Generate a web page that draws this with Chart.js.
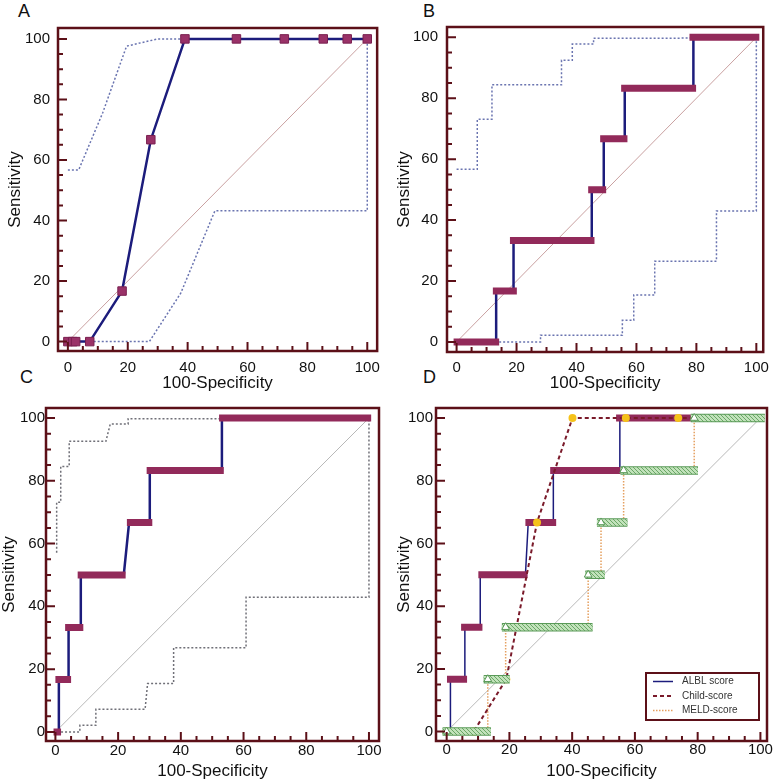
<!DOCTYPE html>
<html>
<head>
<meta charset="utf-8">
<script src="https://cdn.jsdelivr.net/npm/chart.js@4.4.1/dist/chart.umd.min.js"></script>
<style>
  body { margin: 0; background: #fff; }
  #wrap { position: relative; width: 776px; height: 780px; overflow: hidden; }
  #wrap canvas { position: absolute; }
  .letter { position: absolute; font-family: 'Liberation Sans', Arial, sans-serif; font-size: 18px; line-height: 18px; color: #111; }
</style>
</head>
<body>
<div id="wrap">
  <div class="letter" style="left:18px;top:2px">A</div>
  <div class="letter" style="left:423px;top:2px">B</div>
  <div class="letter" style="left:20px;top:368px">C</div>
  <div class="letter" style="left:423px;top:368px">D</div>
</div>
<script>
'use strict';

// ---- data ----
const tickValues = [0, 20, 40, 60, 80, 100];
const chanceX = [0, 100];
const chanceY = [0, 100];
const legendLabels = ['ALBL score', 'Child-score', 'MELD-score'];

// A
const aRocX = [0, 1.6, 2.6, 7.3, 18.1, 27.7, 39.1, 56.3, 72.3, 85.3, 93.3, 100];
const aRocY = [0, 0, 0, 0, 16.7, 66.7, 100, 100, 100, 100, 100, 100];
const aUpperX = [0, 3.6, 11.6, 19.6, 30, 100];
const aUpperY = [56.7, 56.7, 75.5, 97.6, 100, 100];
const aLowerX = [7.3, 27.2, 37.7, 49.1, 100, 100];
const aLowerY = [0, 0, 16, 43.2, 43.2, 100];

// B
const bRocX = [0, 13.2, 13.2, 19.0, 19.0, 45.1, 45.1, 49.1, 49.1, 56.1, 56.1, 79.0, 79.0, 100];
const bRocY = [0, 0, 16.7, 16.7, 33.3, 33.3, 50, 50, 66.7, 66.7, 83.3, 83.3, 100, 100];
const bBarY = [0, 16.7, 33.3, 50, 66.7, 83.3, 100];
const bBarFrom = [-1.0, 12.1, 17.8, 43.9, 47.9, 54.9, 77.7];
const bBarTo = [14.2, 20.1, 46.0, 49.9, 57.0, 79.9, 101];
const bUpperX = [0, 6.9, 6.9, 11.8, 11.8, 35.0, 35.0, 38.6, 38.6, 45.7, 45.7, 70, 100];
const bUpperY = [56.7, 56.7, 73.1, 73.1, 84.4, 84.4, 92.5, 92.5, 97.8, 97.8, 99.7, 99.7, 100];
const bLowerX = [14.2, 28.0, 28.0, 55.3, 55.3, 59.1, 59.1, 66.1, 66.1, 86.7, 86.7, 100, 100];
const bLowerY = [0, 0, 2.2, 2.2, 7.1, 7.1, 15.4, 15.4, 26.5, 26.5, 43, 43, 100];

// C
const cRocX = [0, 1.1, 1.1, 4.2, 4.2, 8.1, 8.1, 21.8, 23.5, 30.1, 30.1, 53.1, 53.1, 100];
const cRocY = [0, 0, 16.7, 16.7, 33.3, 33.3, 50, 50, 66.7, 66.7, 83.3, 83.3, 100, 100];
const cBarY = [0, 16.7, 33.3, 50, 66.7, 83.3, 100];
const cBarFrom = [-0.6, 0, 3.1, 7.1, 22.8, 29.1, 52.2];
const cBarTo = [1.8, 5.0, 8.9, 22.4, 30.9, 53.7, 100.7];
const cUpperX = [0.4, 0.4, 1.7, 1.7, 4.4, 4.4, 16.1, 17.5, 23.2, 23.2, 52.3, 100];
const cUpperY = [57.1, 73.2, 73.2, 84.6, 84.6, 92.6, 92.6, 98.1, 98.1, 99.8, 99.8, 100];
const cLowerX = [1.8, 7.8, 7.8, 12.9, 12.9, 28.6, 29.4, 37.7, 37.7, 60.8, 60.8, 100, 100];
const cLowerY = [0, 0, 2.1, 2.1, 7.2, 7.2, 15.4, 15.4, 26.8, 26.8, 42.9, 42.9, 100];

// D
const dAlblX = [0, 1.2, 1.2, 5.8, 5.8, 10.7, 10.7, 25.1, 26.0, 34.0, 34.0, 55.2, 55.2, 100];
const dAlblY = [0, 0, 16.7, 16.7, 33.3, 33.3, 50, 50, 66.7, 66.7, 83.3, 83.3, 100, 100];
const dAlblBarY = [0, 16.7, 33.3, 50, 66.7, 83.3, 100];
const dAlblBarFrom = [-1.0, 0.1, 4.6, 10.1, 25.1, 33.0, 54.0];
const dAlblBarTo = [2.0, 6.5, 11.4, 25.8, 34.9, 55.5, 78.3];
const dChildX = [0, 8.6, 19.0, 28.8, 40.1, 57.1, 73.8, 100];
const dChildY = [0, 0, 16.7, 66.7, 100, 100, 100, 100];
const dMeldX = [0, 13.1, 18.8, 45.1, 49.2, 56.4, 78.9, 100];
const dMeldY = [0, 16.7, 33.3, 50, 66.7, 83.3, 100, 100];
const dMeldBarY = [0, 16.7, 33.3, 50, 66.7, 83.3, 100];
const dMeldBarFrom = [-1.3, 11.8, 17.6, 44.2, 47.9, 55.4, 77.8];
const dMeldBarTo = [14.1, 20.1, 46.5, 50.4, 57.6, 80.1, 101.4];

// ---- styles / layout ----
const FONT = "'Liberation Sans', Arial, sans-serif";
const FRAME = '#5c1018';
const NAVY = '#1c1c7c';
const PLUM = '#922a5a';
const CI_BLUE = '#6a74b0';
const CI_GREY = '#707078';
const PINK_DIAG = '#c9a0a0';
const GREY_DIAG = '#b8b8b8';
const CHILD = '#7a1a2a';
const YELLOW = '#f5c21a';
const ORANGE = '#e5a060';
const GREEN_EDGE = '#5a9a58';

const panels = {
  A: { box: [0, 0, 388, 400], area: [58, 28, 382, 351], xr: [-3.3, 103.3], yr: [-3.1, 103.6], xTickPad: 8, yTickPad: 8, xTitlePad: 8.5, yTitlePad: 7 },
  B: { box: [388, 0, 776, 400], area: [447, 27, 769, 352], xr: [-3.2, 102.3], yr: [-3.3, 103.4], xTickPad: 7, yTickPad: 9, xTitlePad: 8.5, yTitlePad: 7.5 },
  C: { box: [0, 390, 388, 780], area: [46, 408, 379, 741], xr: [-3.0, 103.2], yr: [-2.9, 103.2], xTickPad: 1, yTickPad: 1, xTitlePad: 0, yTitlePad: 0.5 },
  D: { box: [388, 390, 776, 780], area: [436, 408, 767, 741], xr: [-3.4, 102.1], yr: [-3.0, 103.2], xTickPad: 0, yTickPad: 3, xTitlePad: 0, yTitlePad: 8 }
};

function pts(xs, ys) {
  return xs.map((x, i) => ({ x: x, y: ys[i] }));
}

// horizontal thick segments, separated by gaps
function segs(from, to, ys) {
  const out = [];
  ys.forEach((y, i) => {
    out.push({ x: from[i], y: y }, { x: to[i], y: y }, { x: to[i], y: null });
  });
  return out;
}

function line(data, color, width, dash, extra) {
  return Object.assign({
    data: data,
    showLine: true,
    borderColor: color,
    backgroundColor: color,
    borderWidth: width,
    borderDash: dash || [],
    borderCapStyle: 'butt',
    pointRadius: 0,
    pointHoverRadius: 0,
    spanGaps: false,
    tension: 0,
    fill: false
  }, extra || {});
}

// hatch pattern for the MELD bars
function hatch() {
  const tile = document.createElement('canvas');
  tile.width = 4; tile.height = 4;
  const t = tile.getContext('2d');
  t.fillStyle = '#c2e2bb';
  t.fillRect(0, 0, 4, 4);
  t.strokeStyle = '#6aa866';
  t.lineWidth = 1;
  t.beginPath();
  t.moveTo(0, 0); t.lineTo(4, 4);
  t.moveTo(-1, 3); t.lineTo(1, 5);
  t.moveTo(3, -1); t.lineTo(5, 1);
  t.stroke();
  return t.createPattern(tile, 'repeat');
}

// frame + inward ticks
const framePlugin = {
  id: 'frame',
  afterDatasetsDraw(chart) {
    const { ctx, chartArea: a } = chart;
    const xs = chart.scales.x, ys = chart.scales.y;
    ctx.save();
    ctx.strokeStyle = FRAME;
    ctx.lineWidth = 2.5;
    ctx.strokeRect(a.left, a.top, a.right - a.left, a.bottom - a.top);
    ctx.lineWidth = 2;
    ctx.beginPath();
    for (let v = 0; v <= 100; v += 5) {
      const len = v % 20 === 0 ? 9 : 5;
      const px = xs.getPixelForValue(v);
      ctx.moveTo(px, a.bottom);
      ctx.lineTo(px, a.bottom - len);
      const py = ys.getPixelForValue(v);
      ctx.moveTo(a.left, py);
      ctx.lineTo(a.left + len, py);
    }
    ctx.stroke();
    ctx.restore();
  }
};

const legendPlugin = {
  id: 'dLegend',
  afterDraw(chart) {
    const { ctx, chartArea: a } = chart;
    const w = 113, h = 47;
    const x0 = a.right - 8 - w, y0 = a.bottom - 21 - h;
    const styles = [
      { color: NAVY, width: 1.5, dash: [] },
      { color: CHILD, width: 2, dash: [4, 3] },
      { color: ORANGE, width: 1.5, dash: [1.5, 1.5] }
    ];
    ctx.save();
    ctx.fillStyle = '#fff';
    ctx.fillRect(x0, y0, w, h);
    ctx.strokeStyle = FRAME;
    ctx.lineWidth = 2;
    ctx.strokeRect(x0, y0, w, h);
    ctx.font = '10px ' + FONT;
    ctx.textBaseline = 'middle';
    ctx.fillStyle = '#333';
    legendLabels.forEach((label, i) => {
      const y = y0 + 8.5 + i * 14.5;
      const s = styles[i];
      ctx.strokeStyle = s.color;
      ctx.lineWidth = s.width;
      ctx.setLineDash(s.dash);
      ctx.beginPath();
      ctx.moveTo(x0 + 7, y);
      ctx.lineTo(x0 + 27, y);
      ctx.stroke();
      ctx.setLineDash([]);
      ctx.fillText(label, x0 + 36, y);
    });
    ctx.restore();
  }
};

function makeChart(key, datasets, extraPlugins) {
  const p = panels[key];
  const [bl, bt, br, bb] = p.box;
  const [al, at, ar, ab] = p.area;
  const canvas = document.createElement('canvas');
  canvas.width = br - bl;
  canvas.height = bb - bt;
  canvas.style.left = bl + 'px';
  canvas.style.top = bt + 'px';
  canvas.style.width = (br - bl) + 'px';
  canvas.style.height = (bb - bt) + 'px';
  document.getElementById('wrap').appendChild(canvas);

  const tickFont = { family: FONT, size: 15 };
  const titleFont = { family: FONT, size: 17, lineHeight: 1 };
  const setTicks = scale => { scale.ticks = tickValues.map(v => ({ value: v })); };

  return new Chart(canvas, {
    type: 'scatter',
    data: { datasets: datasets },
    options: {
      responsive: false,
      animation: false,
      devicePixelRatio: 1,
      events: [],
      layout: { padding: { left: 0, top: at - bt, right: br - ar, bottom: 0 } },
      plugins: { legend: { display: false }, tooltip: { enabled: false } },
      scales: {
        x: {
          type: 'linear', position: 'bottom', min: p.xr[0], max: p.xr[1],
          afterBuildTicks: setTicks,
          afterFit: s => { s.height = bb - ab; },
          grid: { display: false, drawTicks: false },
          border: { display: false },
          ticks: { font: tickFont, color: '#111', padding: p.xTickPad, maxRotation: 0, autoSkip: false },
          title: { display: true, text: '100-Specificity', font: titleFont, color: '#111', padding: { top: 0, bottom: p.xTitlePad } }
        },
        y: {
          type: 'linear', position: 'left', min: p.yr[0], max: p.yr[1],
          afterBuildTicks: setTicks,
          afterFit: s => { s.width = al - bl; },
          grid: { display: false, drawTicks: false },
          border: { display: false },
          ticks: { font: tickFont, color: '#111', padding: p.yTickPad, autoSkip: false },
          title: { display: true, text: 'Sensitivity', font: titleFont, color: '#111', padding: { top: p.yTitlePad, bottom: 0 } }
        }
      }
    },
    plugins: [framePlugin].concat(extraPlugins || [])
  });
}

const chance = pts(chanceX, chanceY);

makeChart('A', [
  line(pts(aRocX, aRocY), NAVY, 2.5, [], {
    order: 0, pointRadius: 6, pointStyle: 'rect',
    pointBackgroundColor: '#9a3268', pointBorderColor: '#7a2050', pointBorderWidth: 1
  }),
  line(pts(aUpperX, aUpperY), CI_BLUE, 1.5, [2, 2], { order: 1 }),
  line(pts(aLowerX, aLowerY), CI_BLUE, 1.5, [2, 2], { order: 1 }),
  line(chance, PINK_DIAG, 1, [], { order: 2 })
]);

makeChart('B', [
  line(segs(bBarFrom, bBarTo, bBarY), PLUM, 7, [], { order: 0 }),
  line(pts(bRocX, bRocY), NAVY, 2.5, [], { order: 1 }),
  line(pts(bUpperX, bUpperY), CI_BLUE, 1.5, [2, 2], { order: 2 }),
  line(pts(bLowerX, bLowerY), CI_BLUE, 1.5, [2, 2], { order: 2 }),
  line(chance, PINK_DIAG, 1, [], { order: 3 })
]);

makeChart('C', [
  line(segs(cBarFrom, cBarTo, cBarY), PLUM, 7, [], { order: 0 }),
  line(pts(cRocX, cRocY), NAVY, 2.5, [], { order: 1 }),
  line(pts(cUpperX, cUpperY), CI_GREY, 1.5, [2, 2], { order: 2 }),
  line(pts(cLowerX, cLowerY), CI_GREY, 1.5, [2, 2], { order: 2 }),
  line(chance, GREY_DIAG, 1, [], { order: 3 })
]);

const meldTriangles = pts(dMeldX.slice(0, -1), dMeldY.slice(0, -1));
makeChart('D', [
  {
    data: meldTriangles, showLine: false, order: 0,
    pointStyle: 'triangle', pointRadius: 4.5, pointHoverRadius: 4.5,
    pointBackgroundColor: '#fff', pointBorderColor: GREEN_EDGE, pointBorderWidth: 1
  },
  line(segs(dMeldBarFrom, dMeldBarTo, dMeldBarY), hatch(), 6.5, [], { order: 1 }),
  line(segs(dMeldBarFrom, dMeldBarTo, dMeldBarY), GREEN_EDGE, 8.5, [], { order: 2 }),
  line(pts(dChildX, dChildY), CHILD, 2, [4, 3], {
    order: 3, pointRadius: 4, pointHoverRadius: 4,
    pointBackgroundColor: YELLOW, pointBorderColor: YELLOW, pointBorderWidth: 0
  }),
  line(pts(dMeldX, dMeldY), ORANGE, 1.5, [1.5, 1.5], { order: 4, stepped: 'before' }),
  line(segs(dAlblBarFrom, dAlblBarTo, dAlblBarY), PLUM, 7, [], { order: 5 }),
  line(pts(dAlblX, dAlblY), NAVY, 1.5, [], { order: 6 }),
  line(chance, GREY_DIAG, 1, [], { order: 7 })
], [legendPlugin]);
</script>
</body>
</html>
